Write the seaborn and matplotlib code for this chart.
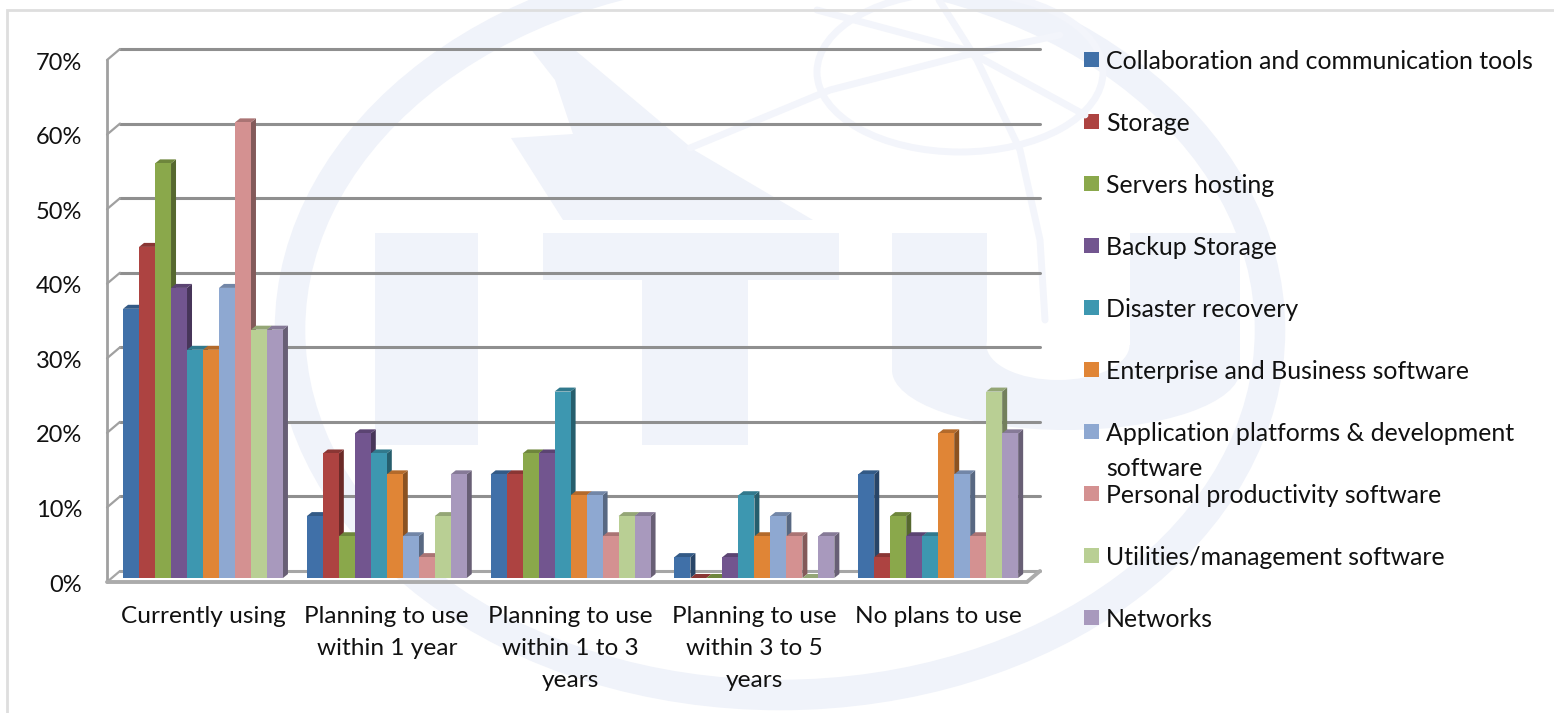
import numpy as np
import pandas as pd
import matplotlib
matplotlib.use("Agg")
import matplotlib.pyplot as plt
from matplotlib.patches import Ellipse, Polygon, Rectangle
from matplotlib.transforms import ScaledTranslation
import seaborn as sns

stages = ["Currently using", "Planning to use\nwithin 1 year", "Planning to use\nwithin 1 to 3\nyears",
          "Planning to use\nwithin 3 to 5\nyears", "No plans to use"]
services = ["Collaboration and communication tools", "Storage", "Servers hosting", "Backup Storage",
            "Disaster recovery", "Enterprise and Business software",
            "Application platforms & development\nsoftware", "Personal productivity software",
            "Utilities/management software", "Networks"]
colors = ["#4070a8", "#ad4341", "#8aa84b", "#72558f", "#3d97b0", "#e08536", "#8ea8d1", "#d49191", "#b9cf94", "#a899bd"]

collaboration = [36.1, 8.3, 13.9, 2.8, 13.9]
storage = [44.4, 16.7, 13.9, 0.0, 2.8]
servers = [55.6, 5.6, 16.7, 0.0, 8.3]
backup = [38.9, 19.4, 16.7, 2.8, 5.6]
disaster = [30.6, 16.7, 25.0, 11.1, 5.6]
enterprise = [30.6, 13.9, 11.1, 5.6, 19.4]
platforms = [38.9, 5.6, 11.1, 8.3, 13.9]
personal = [61.1, 2.8, 5.6, 5.6, 5.6]
utilities = [33.3, 8.3, 8.3, 0.0, 25.0]
networks = [33.3, 13.9, 8.3, 5.6, 19.4]
all_series = [collaboration, storage, servers, backup, disaster, enterprise, platforms, personal, utilities, networks]

ticks = [0, 10, 20, 30, 40, 50, 60, 70]

rows = []
for name, vals in zip(services, all_series):
    for st, v in zip(stages, vals):
        rows.append({"stage": st, "service": name, "pct": v})
df = pd.DataFrame(rows)

W, H = 1554, 713
sns.set_style("white")
plt.rcParams["font.family"] = ["Lato", "DejaVu Sans"]
fig = plt.figure(figsize=(W / 100, H / 100), dpi=100, facecolor="white")

# background layer in pixel coordinates (watermark and frame)
bg = fig.add_axes([0, 0, 1, 1], zorder=0)
bg.set_xlim(0, W)
bg.set_ylim(H, 0)
bg.axis("off")
wm = "#f0f3fa"
bg.add_patch(Ellipse((780, 330), 980, 730, fill=False, ec=wm, lw=22))
bg.add_patch(Ellipse((960, 72), 286, 160, fill=False, ec="#f3f5fb", lw=5))
bg.add_patch(Polygon([(511, 138), (573, 134), (555, 80), (530, 48), (575, 50), (694, 150), (813, 220), (563, 220)],
                     fc=wm, ec="none"))
for xs, ys in [([690, 830, 966, 1060], [148, 90, 55, 35]), ([817, 966, 1085], [10, 50, 115]),
               ([939, 977, 1020, 1040, 1045], [0, 60, 150, 240, 320])]:
    bg.plot(xs, ys, color="#f3f5fb", lw=5)
for x0, x1, y0, y1 in [(375, 478, 233, 445), (543, 839, 233, 280), (642, 748, 280, 445),
                       (892, 987, 233, 370), (1130, 1240, 233, 370)]:
    bg.add_patch(Rectangle((x0, y0), x1 - x0, y1 - y0, fc=wm, ec="none"))
bg.add_patch(Ellipse((1066, 370), 348, 120, fc=wm, ec="none"))
bg.add_patch(Ellipse((1058, 345), 143, 70, fc="white", ec="none"))
bg.add_patch(Rectangle((987, 233), 143, 112, fc="white", ec="none"))
bg.plot([7, 7, W], [H, 10, 10], color="#dedede", lw=2, solid_joinstyle="miter")

# main axes: x=107..1040, value 0 at y=578, 70 at y=56
ax = fig.add_axes([107 / W, 1 - 578 / H, (1040 - 107) / W, (578 - 56) / H], zorder=1)
ax.patch.set_alpha(0)

sns.barplot(data=df, x="stage", y="pct", hue="service", order=stages, hue_order=services, palette=colors,
            width=0.87, gap=0, saturation=1, legend=False, ax=ax, linewidth=0, edgecolor="none")

px_x = 1 / 183.8
px_y = 70 / 522
ax.set_xlim(-96 * px_x, (1040 - 203) * px_x)
ax.set_ylim(0, 70)
for s in ax.spines.values():
    s.set_visible(False)
ax.set_xlabel("")
ax.set_ylabel("")
ax.grid(False)

# walls
grid_col = "#8f8f8f"
back = 7 * px_y
front = 4 * px_y
xl, xr = ax.get_xlim()
wall_x = xl + 13 * px_x
for t in ticks:
    if t == 0:
        continue
    ax.plot([wall_x, xr], [t + back, t + back], color=grid_col, lw=2.2, zorder=1, solid_capstyle="round", clip_on=False)
    ax.plot([xl, wall_x], [t - front, t + back], color="#a0a0a0", lw=1.6, zorder=1, clip_on=False)
ax.plot([wall_x, xr], [back, back], color="#a6a6a6", lw=2.2, zorder=1, clip_on=False)
ax.plot([xl, wall_x], [-front, back], color="#a6a6a6", lw=1.6, zorder=1, clip_on=False)
ax.plot([xl, xl], [-front, 70 - front], color="#a0a0a0", lw=2, zorder=1, clip_on=False)
ax.plot([xl, xr - 13 * px_x, xr], [-front, -front, back], color="#ababab", lw=2.8, zorder=1.5, clip_on=False,
        solid_joinstyle="miter")

# turn the flat bars into 3d-looking columns
dx, dy = 5 * px_x, 4 * px_y
for bar in sorted(ax.patches, key=lambda b: b.get_x()):
    x0, x1 = bar.get_x(), bar.get_x() + bar.get_width()
    h = bar.get_height()
    r, g, b, _ = bar.get_facecolor()
    z = 3 + x0
    side = (r * 0.62, g * 0.62, b * 0.62)
    top = (r * 0.8, g * 0.8, b * 0.8)
    ax.add_patch(Polygon([(x1, 0), (x1 + dx, dy), (x1 + dx, h + dy), (x1, h)], fc=side, ec="none", zorder=z, clip_on=False))
    ax.add_patch(Polygon([(x0, h), (x0 + dx, h + dy), (x1 + dx, h + dy), (x1, h)], fc=top, ec="none", zorder=z, clip_on=False))
    bar.set_zorder(z + 0.01)
    bar.set_clip_on(False)

# axis labels
font = 17.6
ax.set_yticks(ticks)
ax.set_yticklabels([f"{t}%" for t in ticks], fontsize=17, color="#111111")
ax.tick_params(axis="y", length=0, pad=18)
ax.tick_params(axis="x", length=0, pad=20, labelsize=font, labelcolor="#111111")
offset = ScaledTranslation(0, -5 / 100, fig.dpi_scale_trans)
for lab in ax.get_yticklabels():
    lab.set_transform(lab.get_transform() + offset)
for lab in ax.get_xticklabels():
    lab.set_linespacing(1.65)

# legend column
for i, (name, col) in enumerate(zip(services, colors)):
    y = 59 + 62 * i
    bg.add_patch(Rectangle((1084, y - 7.5), 15, 15, fc=col, ec="none"))
    bg.text(1106, y - 9, name, fontsize=17.9, color="#111111", va="top", ha="left", linespacing=1.62, zorder=5)

fig.savefig("out.png", dpi=100)
